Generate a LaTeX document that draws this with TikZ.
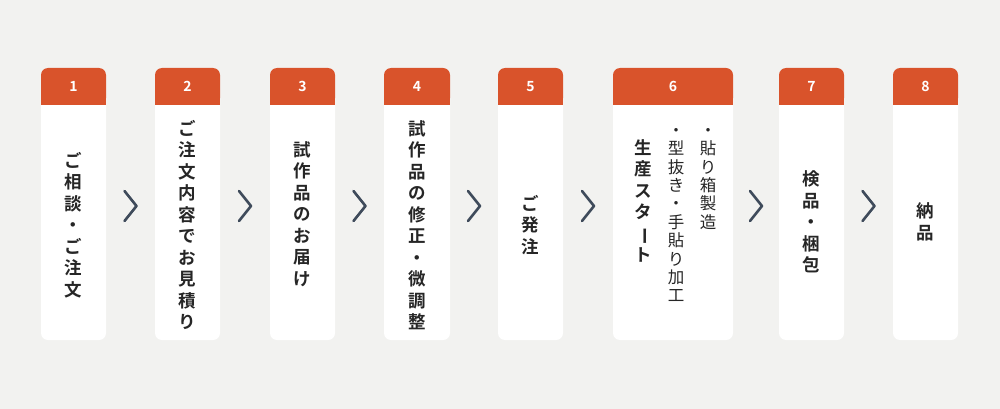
\documentclass[tikz,border=0pt]{standalone}
\usepackage{fontspec}
\usepackage{graphicx}
\newfontfamily\jp{Noto Sans CJK JP}[BoldFont={Noto Sans CJK JP Bold}]
\usetikzlibrary{calc}
\definecolor{bgcol}{HTML}{F2F2F0}
\definecolor{headcol}{HTML}{D9532B}
\definecolor{chevcol}{HTML}{3F4B5B}
\newcommand{\vbar}{\rotatebox[origin=c]{-90}{ー}}
% card: name, left x, right x, number
\newcommand{\card}[4]{ \fill[white, rounded corners=7pt] (#2,68) rectangle (#3,340); \fill[headcol, rounded corners=7pt] (#2,68) rectangle (#3,105); \fill[headcol] (#2,90) rectangle (#3,105); \coordinate (#1w) at (#2,206); \coordinate (#1e) at (#3,206); \node[num] (#1) at ({(#2+#3)/2},86.5) {#4};}
\newcommand{\chev}[2]{ \draw[chevron] ($(#1e)!0.5!(#2w)+(-6,-15)$) -- ++(12,15) -- ++(-12,15);}
\tikzset{
  num/.style={text=white, font=\jp\bfseries\fontsize{14}{14}\selectfont, inner sep=0pt},
  vtext/.style={font=\jp\bfseries\fontsize{17.5}{21.5}\selectfont, align=center, inner sep=0pt, text=black!85},
  vlight/.style={font=\jp\fontsize{16.5}{18.4}\selectfont, align=center, inner sep=0pt, text=black!85, anchor=north},
  chevron/.style={chevcol, line width=2.6pt, line cap=round, line join=round}
}
\begin{document}
\begin{tikzpicture}[x=1pt,y=-1pt]
        \fill[bgcol] (0,0) rectangle (1000,409);
        % cards
        \card{c1}{41}{106}{1}
        \card{c2}{155}{220}{2}
        \card{c3}{270}{335}{3}
        \card{c4}{384}{450}{4}
        \card{c5}{498}{563}{5}
        \card{c6}{613}{733}{6}
        \card{c7}{779}{844}{7}
        \card{c8}{893}{958}{8}
        % texts
        \node[vtext] (t1) at (73.5,225) {ご\\相\\談\\・\\ご\\注\\文};
        \node[vtext] (t2) at (187.5,225) {ご\\注\\文\\内\\容\\で\\お\\見\\積\\り};
        \node[vtext] (t3) at (302.5,214) {試\\作\\品\\の\\お\\届\\け};
        \node[vtext] (t4) at (417,225) {試\\作\\品\\の\\修\\正\\・\\微\\調\\整};
        \node[vtext] (t5) at (530.5,225) {ご\\発\\注};
        \node[vtext, anchor=north] (t6a) at (643,139) {生\\産\\ス\\タ\\\vbar\\ト};
        \node[vlight] (t6b) at (676,128) {・\\型\\抜\\き\\・\\手\\貼\\り\\加\\工};
        \node[vlight] (t6c) at (708,128) {・\\貼\\り\\箱\\製\\造};
        \node[vtext] (t7) at (811.5,222) {検\\品\\・\\梱\\包};
        \node[vtext] (t8) at (925.5,222) {納\\品};
        % chevrons
        \chev{c1}{c2}
        \chev{c2}{c3}
        \chev{c3}{c4}
        \chev{c4}{c5}
        \chev{c5}{c6}
        \chev{c6}{c7}
        \chev{c7}{c8}
\end{tikzpicture}
\end{document}
